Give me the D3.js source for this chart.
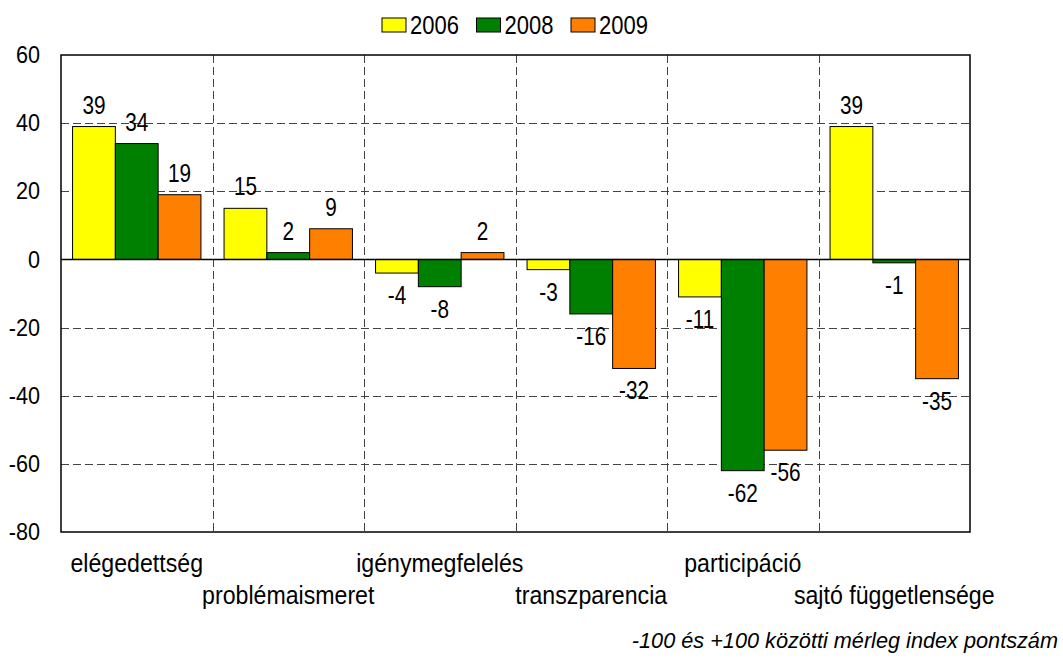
<!DOCTYPE html>
<html>
<head>
<meta charset="utf-8">
<script src="https://cdn.jsdelivr.net/npm/d3@7"></script>
<style>
    body { margin: 0; background: #fff; }
    svg { display: block; }
    text { font-family: "Liberation Sans Narrow", "Arial Narrow", "Liberation Sans", Arial, sans-serif; fill: #000; }
</style>
</head>
<body>
<svg id="chart" width="1063" height="659"></svg>
<script>
// chart data
var categories = ["elégedettség", "problémaismeret", "igénymegfelelés", "transzparencia", "participáció", "sajtó függetlensége"];
var seriesNames = ["2006", "2008", "2009"];
var values2006 = [39, 15, -4, -3, -11, 39];
var values2008 = [34, 2, -8, -16, -62, -1];
var values2009 = [19, 9, 2, -32, -56, -35];
var yTicks = [-80, -60, -40, -20, 0, 20, 40, 60];
var colors = ["#ffff00", "#008000", "#ff8000"];
var note = "-100 és +100 közötti mérleg index pontszám";

var allValues = [values2006, values2008, values2009];

var svg = d3.select("#chart"),
    margin = { top: 55, left: 61, right: 93, bottom: 127 },
    width = +svg.attr("width"),
    height = +svg.attr("height");

// the reference font is a narrow one, squeeze the regular one horizontally
function narrow(sel, sx) {
    sel.each(function () {
        var t = d3.select(this);
        var px = +t.attr("x") || 0, py = +t.attr("y") || 0;
        t.attr("transform", `translate(${px},${py}) scale(${sx},1)`)
            .attr("x", 0).attr("y", 0);
    });
}

var x = d3.scaleBand()
    .domain(categories)
    .range([margin.left, width - margin.right])
    .paddingInner(0)
    .paddingOuter(0);

var xs = d3.scaleBand()
    .domain(seriesNames)
    .range([0, x.bandwidth()])
    .paddingInner(0)
    .paddingOuter(0.27);

var y = d3.scaleLinear()
    .domain([-80, 60])
    .range([height - margin.bottom, margin.top]);

// horizontal grid (dashed)
svg.append("g")
    .selectAll("line")
    .data(yTicks.filter(d => d != 0 && d != 60 && d != -80))
    .enter().append("line")
    .attr("x1", margin.left)
    .attr("x2", width - margin.right)
    .attr("y1", d => Math.round(y(d)) + 0.5)
    .attr("y2", d => Math.round(y(d)) + 0.5)
    .attr("stroke", "#444")
    .attr("stroke-dasharray", "8,4");

// vertical grid between categories
svg.append("g")
    .selectAll("line")
    .data(categories.slice(1))
    .enter().append("line")
    .attr("x1", d => Math.round(x(d)) + 0.5)
    .attr("x2", d => Math.round(x(d)) + 0.5)
    .attr("y1", margin.top)
    .attr("y2", height - margin.bottom)
    .attr("stroke", "#444")
    .attr("stroke-dasharray", "8,4");

// bars
var rows = [];
categories.forEach(function (c, i) {
    seriesNames.forEach(function (s, j) {
        rows.push({ cat: c, series: s, value: allValues[j][i], color: colors[j] });
    });
});

svg.append("g")
    .selectAll("rect")
    .data(rows)
    .enter().append("rect")
    .attr("x", d => x(d.cat) + xs(d.series))
    .attr("y", d => y(Math.max(0, d.value)))
    .attr("width", xs.bandwidth())
    .attr("height", d => Math.abs(y(d.value) - y(0)))
    .attr("fill", d => d.color)
    .attr("stroke", "#000")
    .attr("stroke-width", 1);

// zero line
svg.append("line")
    .attr("x1", margin.left)
    .attr("x2", width - margin.right)
    .attr("y1", y(0))
    .attr("y2", y(0))
    .attr("stroke", "#000")
    .attr("stroke-width", 1.5);

// frame
svg.append("rect")
    .attr("x", margin.left)
    .attr("y", margin.top)
    .attr("width", width - margin.right - margin.left)
    .attr("height", height - margin.bottom - margin.top)
    .attr("fill", "none")
    .attr("stroke", "#000")
    .attr("stroke-width", 1.5);

// value labels
svg.append("g")
    .selectAll("text")
    .data(rows)
    .enter().append("text")
    .attr("x", d => x(d.cat) + xs(d.series) + xs.bandwidth() / 2)
    .attr("y", d => d.value >= 0 ? y(d.value) - 13 : y(d.value) + 31)
    .attr("text-anchor", "middle")
    .style("font-size", "25px")
    .text(d => d.value)
    .call(narrow, 0.83);

// y axis
var yAxis = svg.append("g")
    .attr("transform", `translate(${margin.left},0)`)
    .call(d3.axisLeft(y).tickValues(yTicks).tickSize(0).tickPadding(21).tickFormat(d => String(d)));
yAxis.select(".domain").remove();
yAxis.selectAll("text")
    .style("font-size", "24px")
    .style("font-family", null)
    .call(narrow, 0.9);

// category labels, staggered on two rows
svg.append("g")
    .selectAll("text")
    .data(categories)
    .enter().append("text")
    .attr("x", d => x(d) + x.bandwidth() / 2)
    .attr("y", (d, i) => i % 2 == 0 ? 572 : 604)
    .attr("text-anchor", "middle")
    .style("font-size", "26px")
    .text(d => d)
    .call(narrow, 0.89);

// legend
var legend = svg.append("g")
    .selectAll("g")
    .data(seriesNames)
    .enter().append("g")
    .attr("transform", (d, i) => `translate(${382 + i * 94.5},18)`);

legend.append("rect")
    .attr("width", 24)
    .attr("height", 14)
    .attr("fill", (d, i) => colors[i])
    .attr("stroke", "#000");

legend.append("text")
    .attr("x", 28)
    .attr("y", 16)
    .style("font-size", "25px")
    .text(d => d)
    .call(narrow, 0.88);

// footnote
svg.append("text")
    .attr("x", 1058)
    .attr("y", 648)
    .attr("text-anchor", "end")
    .style("font-size", "21.7px")
    .style("font-style", "italic")
    .text(note);
</script>
</body>
</html>
